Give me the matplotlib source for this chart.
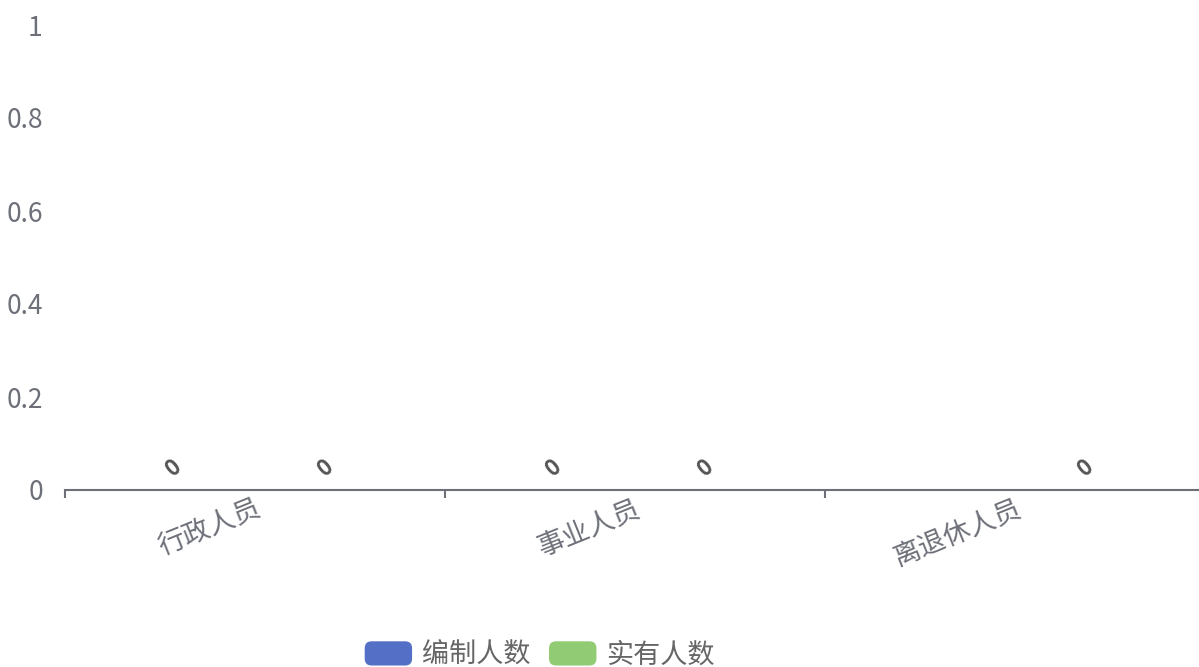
import matplotlib
matplotlib.use("Agg")
import matplotlib.pyplot as plt
import numpy as np
from matplotlib.patches import FancyBboxPatch, Patch
from matplotlib.legend_handler import HandlerPatch

plt.rcParams['font.family'] = ['Noto Sans CJK SC', 'DejaVu Sans']

categories = ['行政人员', '事业人员', '离退休人员']
series_names = ['编制人数', '实有人数']
bianzhi = [0, 0, np.nan]
shiyou = [0, 0, 0]
colors = ['#5470c6', '#91cc75']
y_ticks = [0, 0.2, 0.4, 0.6, 0.8, 1]
y_tick_labels = ['0', '0.2', '0.4', '0.6', '0.8', '1']

axis_color = '#6e7079'

fig = plt.figure(figsize=(11.99, 6.67), dpi=100)
ax = fig.add_axes([65 / 1199, 177 / 667, 1140 / 1199, 465 / 667])

x = np.arange(len(categories))
offsets = [-0.2, 0.2]
for vals, off, c, name in zip([bianzhi, shiyou], offsets, colors, series_names):
    ax.bar(x + off, vals, width=0.3, color=c, label=name)
    for xi, v in zip(x, vals):
        if np.isnan(v):
            continue
        ax.annotate(f'{v:g}', (xi + off, v), xytext=(-4, 16), textcoords='offset points',
                    ha='center', va='center', rotation=40, fontsize=16, fontweight='bold',
                    color='#555555')

ax.set_xlim(-0.5, len(categories) - 0.5)
ax.set_ylim(0, 1)
ax.set_yticks(y_ticks)
ax.set_yticklabels(y_tick_labels)
ax.tick_params(axis='y', length=0, pad=16, labelsize=19, labelcolor=axis_color)

# category boundaries as major ticks, labels at centers
ax.set_xticks(np.arange(len(categories) + 1) - 0.5)
ax.set_xticklabels([])
ax.tick_params(axis='x', which='major', length=6, width=1.5, color=axis_color)
ax.set_xticks(x, minor=True)
ax.set_xticklabels(categories, minor=True, rotation=22, ha='right', rotation_mode='anchor')
ax.tick_params(axis='x', which='minor', length=0, pad=4, labelsize=19.5, labelcolor=axis_color)

for s in ['top', 'right', 'left']:
    ax.spines[s].set_visible(False)
ax.spines['bottom'].set_color(axis_color)
ax.spines['bottom'].set_linewidth(1.5)


def rounded_handle(legend, orig_handle, xdescent, ydescent, width, height, fontsize):
    return FancyBboxPatch((-xdescent, -ydescent), width, height,
                          boxstyle='round,pad=0,rounding_size=5',
                          facecolor=orig_handle.get_facecolor(), edgecolor='none')


handles = [Patch(facecolor=c, label=n) for c, n in zip(colors, series_names)]
fig.legend(handles=handles, loc='center', bbox_to_anchor=(0.45, 0.018), ncol=2, frameon=False,
           fontsize=19.5, labelcolor='#666666', handlelength=1.75, handleheight=1.0,
           handletextpad=0.35, columnspacing=0.7,
           handler_map={Patch: HandlerPatch(patch_func=rounded_handle)})

fig.savefig('out.png', dpi=100)
